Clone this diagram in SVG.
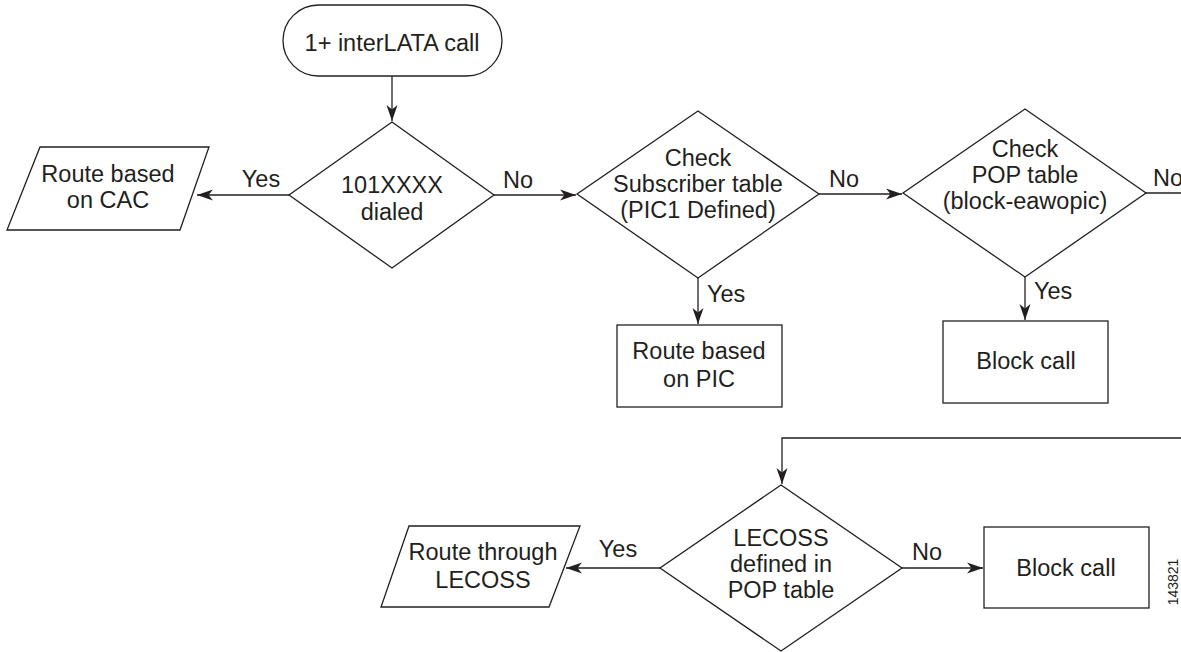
<svg xmlns="http://www.w3.org/2000/svg" width="1181" height="652" viewBox="0 0 1181 652">
<defs>
<style>
.s{fill:#fff;stroke:#231f20;stroke-width:1.3}
.c{fill:none;stroke:#231f20;stroke-width:1.3}
text{font-family:"Liberation Sans",Arial,sans-serif;font-size:23.5px;fill:#231f20}
.m{text-anchor:middle}
.id{font-size:14px}
</style>
<marker id="ah" markerWidth="17" markerHeight="12" refX="16" refY="6" orient="auto" markerUnits="userSpaceOnUse">
<path d="M0,0.5 L16,6 L0,11.5 L4.5,6 z" fill="#231f20"/>
</marker>
</defs>
<g id="connectors">
<path class="c" d="M392,76 V121" marker-end="url(#ah)"/>
<path class="c" d="M289,195 H197" marker-end="url(#ah)"/>
<path class="c" d="M494,195 H576" marker-end="url(#ah)"/>
<path class="c" d="M698,278 V324" marker-end="url(#ah)"/>
<path class="c" d="M819,194 H902" marker-end="url(#ah)"/>
<path class="c" d="M1025,277 V320" marker-end="url(#ah)"/>
<path class="c" d="M1146,193 H1200 V438 H782 V484" marker-end="url(#ah)"/>
<path class="c" d="M660,568 H566" marker-end="url(#ah)"/>
<path class="c" d="M902,568 H983" marker-end="url(#ah)"/>
<text x="261" y="187" class="m">Yes</text>
<text x="518" y="188" class="m">No</text>
<text x="707" y="302">Yes</text>
<text x="844" y="187" class="m">No</text>
<text x="1034" y="299">Yes</text>
<text x="1153" y="186">No</text>
<text x="618" y="557" class="m">Yes</text>
<text x="927" y="560" class="m">No</text>
</g>
<g id="start">
<rect class="s" x="283" y="5" width="219" height="71" rx="35.5"/>
<text x="392" y="51" class="m">1+ interLATA call</text>
</g>
<g id="d-dialed">
<polygon class="s" points="392,122 494,195 392,268 289,195"/>
<text x="392" y="193" class="m">101XXXX</text>
<text x="392" y="220" class="m">dialed</text>
</g>
<g id="route-cac">
<polygon class="s" points="40,147 209,147 180,230 7,230"/>
<text x="108" y="182" class="m">Route based</text>
<text x="108" y="208" class="m">on CAC</text>
</g>
<g id="d-subscriber">
<polygon class="s" points="698,111 819,194 698,278 577,194"/>
<text x="698" y="166" class="m">Check</text>
<text x="698" y="192" class="m">Subscriber table</text>
<text x="698" y="218" class="m">(PIC1 Defined)</text>
</g>
<g id="route-pic">
<rect class="s" x="617" y="325" width="165" height="82"/>
<text x="699" y="359" class="m">Route based</text>
<text x="699" y="387" class="m">on PIC</text>
</g>
<g id="d-pop">
<polygon class="s" points="1025,109 1146,193 1025,277 903,193"/>
<text x="1025" y="157" class="m">Check</text>
<text x="1025" y="183" class="m">POP table</text>
<text x="1025" y="209" class="m">(block-eawopic)</text>
</g>
<g id="block1">
<rect class="s" x="943" y="321" width="165" height="82"/>
<text x="1026" y="369" class="m">Block call</text>
</g>
<g id="d-lecoss">
<polygon class="s" points="781,485 902,568 781,651 660,568"/>
<text x="781" y="546" class="m">LECOSS</text>
<text x="781" y="572" class="m">defined in</text>
<text x="781" y="598" class="m">POP table</text>
</g>
<g id="route-lecoss">
<polygon class="s" points="409,526 580,526 549,607 381,607"/>
<text x="483" y="560" class="m">Route through</text>
<text x="483" y="588" class="m">LECOSS</text>
</g>
<g id="block2">
<rect class="s" x="984" y="527" width="165" height="81"/>
<text x="1066" y="576" class="m">Block call</text>
</g>
<text class="id m" transform="translate(1178,582) rotate(-90)">143821</text>
</svg>
